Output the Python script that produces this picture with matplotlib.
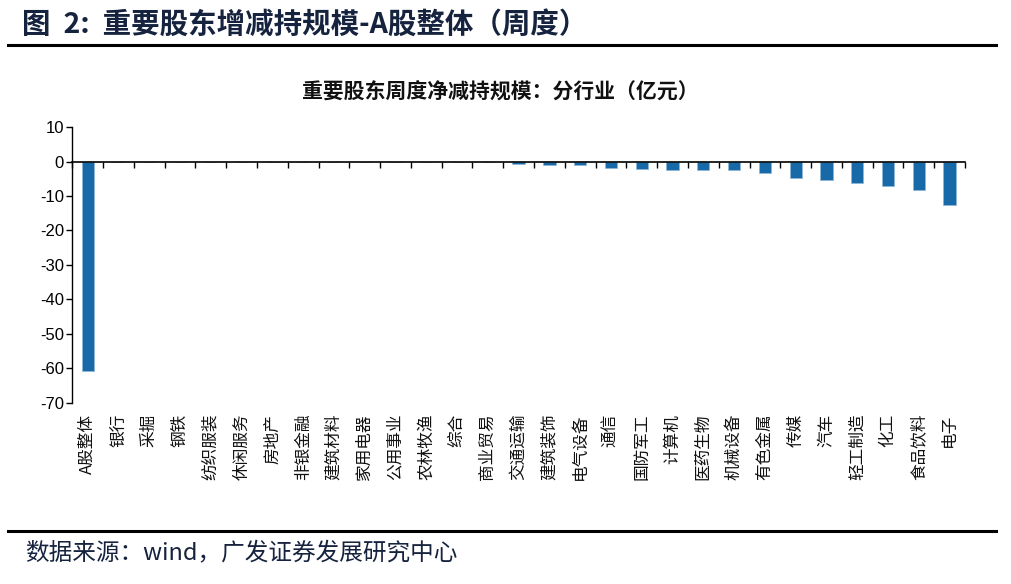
import numpy as np
import matplotlib
matplotlib.use("Agg")
import matplotlib.pyplot as plt
import matplotlib.transforms as mtransforms
from matplotlib.ticker import FixedLocator, NullFormatter

plt.rcParams['font.family'] = ['Noto Sans CJK SC', 'DejaVu Sans']

# data (亿元)
industries = ['A股整体', '银行', '采掘', '钢铁', '纺织服装', '休闲服务', '房地产',
              '非银金融', '建筑材料', '家用电器', '公用事业', '农林牧渔', '综合',
              '商业贸易', '交通运输', '建筑装饰', '电气设备', '通信', '国防军工',
              '计算机', '医药生物', '机械设备', '有色金属', '传媒', '汽车',
              '轻工制造', '化工', '食品饮料', '电子']
net_reduce = [-60.6, 0, 0, 0, 0, 0, 0, 0, 0, 0, 0, 0, 0,
              0, -0.6, -0.9, -0.9, -1.9, -2.1, -2.4, -2.4, -2.6, -3.3,
              -4.8, -5.3, -6.2, -7.1, -8.4, -12.5]
y_ticks = [10, 0, -10, -20, -30, -40, -50, -60, -70]

bar_color = '#1869a8'
navy = '#16233f'

fig = plt.figure(figsize=(10.11, 5.84), dpi=100)
ax = fig.add_axes([0.0715, 0.31, 0.883, 0.4725])

x = np.arange(len(industries))
ax.bar(x, net_reduce, width=0.4, color=bar_color, edgecolor='#8fb6d8', linewidth=0.5)

ax.set_xlim(-0.5, len(industries) - 0.5)
ax.set_ylim(-70, 10)
ax.set_yticks(y_ticks)
ax.set_yticklabels([str(v) for v in y_ticks], fontfamily='Liberation Sans', fontsize=12)
ax.tick_params(axis='y', direction='out', length=4, width=1, pad=2)

for s in ['top', 'right']:
    ax.spines[s].set_visible(False)
ax.spines['left'].set_linewidth(1)
ax.spines['bottom'].set_position(('data', 0))
ax.spines['bottom'].set_linewidth(1.2)

# tick marks between categories on the zero line
ax.xaxis.set_major_locator(FixedLocator(np.arange(-0.5, len(industries), 1.0)))
ax.xaxis.set_major_formatter(NullFormatter())
ax.tick_params(axis='x', direction='out', length=4, width=1)

# category labels below the plot area
trans = mtransforms.blended_transform_factory(ax.transData, ax.transAxes)
for i, name in enumerate(industries):
    ax.text(i, -0.04, name, transform=trans, rotation=90, ha='center', va='top',
            fontsize=12, color='#111111')

# chart subtitle
fig.text(0.495, 0.842, '重要股东周度净减持规模：分行业（亿元）', ha='center', va='center',
         fontsize=15, fontweight='bold', color='#111111')

# report header and footer
fig.text(0.022, 0.957, '图  2:  重要股东增减持规模-A股整体（周度）', ha='left', va='center',
         fontsize=20.5, fontweight='bold', color=navy)
fig.add_artist(plt.Line2D([0.008, 0.985], [0.923, 0.923], color='black', lw=2.2,
                          transform=fig.transFigure))
fig.add_artist(plt.Line2D([0.008, 0.985], [0.091, 0.091], color='black', lw=2.2,
                          transform=fig.transFigure))
fig.text(0.025, 0.052, '数据来源：wind，广发证券发展研究中心', ha='left', va='center',
         fontsize=17, color=navy)

fig.savefig('out.png', dpi=100)
